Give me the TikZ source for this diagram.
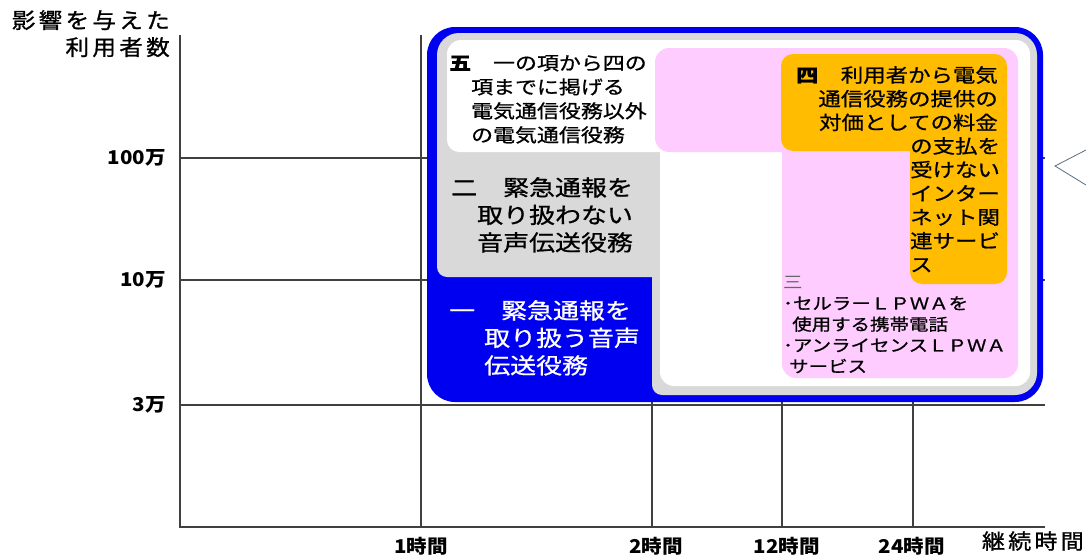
\documentclass[tikz,border=0pt]{standalone}
\usepackage{fontspec}
\setmainfont{Noto Sans CJK JP}[FakeStretch=1.18,FakeBold=0.8]
\newfontfamily\lblfont{Noto Sans CJK JP}[FakeStretch=1.08]
\newfontfamily\ttlfont{Noto Sans CJK JP}[FakeStretch=1.1,FakeBold=1,LetterSpace=15]
\usetikzlibrary{positioning}
\definecolor{kblue}{HTML}{0000F0}
\definecolor{kgray}{HTML}{D9D9D9}
\definecolor{kpink}{HTML}{FFCCFF}
\definecolor{korange}{HTML}{FFBC00}
\definecolor{kline}{HTML}{404040}
\definecolor{kmark}{HTML}{5A6E7E}

\begin{document}
\begin{tikzpicture}[x=1pt,y=-1pt,
    grid/.style={kline,line width=1.3pt},
    axlab/.style={inner sep=0pt,font=\lblfont\bfseries\fontsize{19}{19}\selectfont},
    boxtxt/.style={inner sep=0pt,align=left,anchor=north west}]
 \useasboundingbox (0,0) rectangle (1086,554);
 % axes and grid
 \draw[grid] (180,35) -- (180,527) -- (1045,527);
 \foreach \Y in {158,280,405} {\draw[grid] (180,\Y) -- (1045,\Y);}
 \foreach \X in {421,652,782,913} {\draw[grid] (\X,35) -- (\X,527);}
 % nested areas
 \fill[kblue,rounded corners=28] (427,27) rectangle (1043,402);
 \fill[kgray] (437,150) [rounded corners=22] -- (437,33) -- (1037,33) -- (1037,395)
   [rounded corners=10] -- (652,395) [sharp corners] -- (652,277) [rounded corners=10] -- (437,277) -- cycle;
 \fill[white] (447,100) [rounded corners=14] -- (447,40) -- (1030,40) -- (1030,386)
   -- (660,386) [sharp corners] -- (660,152) [rounded corners=12] -- (447,152) -- cycle;
 \fill[kpink] (655,100) [rounded corners=14] -- (655,48) -- (1018,48) -- (1018,378)
   -- (782,378) [sharp corners] -- (782,152) [rounded corners=14] -- (655,152) -- cycle;
 \fill[korange] (781,100) [rounded corners=12] -- (781,54) -- (1007,54) -- (1007,284)
   -- (910,284) [sharp corners] -- (910,151) [rounded corners=12] -- (781,151) -- cycle;
 % texts in the areas
 \node[boxtxt,font=\fontsize{18.6}{24}\selectfont] (OTHER) at (449,55)
  {{\bfseries 五}　一の項から四の\\　項までに掲げる\\　電気通信役務以外\\　の電気通信役務};
 \node[boxtxt,font=\fontsize{22}{27.5}\selectfont] (NOEMG) at (451,177)
  {二　緊急通報を\\　取り扱わない\\　音声伝送役務};
 \node[boxtxt,white,font=\fontsize{22}{27.5}\selectfont] (EMG) at (449,300)
  {一　緊急通報を\\\hspace*{35pt}取り扱う音声\\\hspace*{35pt}伝送役務};
 \node[boxtxt,align=right,anchor=north east,font=\fontsize{19}{23.7}\selectfont] (FREE) at (998,66)
  {{\bfseries 四}　利用者から電気\\通信役務の提供の\\対価としての料金};
 \node[boxtxt,font=\fontsize{19}{23.7}\selectfont] (FREEB) at (910,137)
  {の支払を\\受けない\\インター\\ネット関\\連サービ\\ス};
 \node[boxtxt,font=\fontsize{16.5}{21}\selectfont] (LPWA) at (783,276)
  {{\color{black!60}\addfontfeature{FakeBold=0}三}\\･セルラーＬＰＷＡを\\\hspace*{9pt}使用する携帯電話\\･アンライセンスＬＰＷＡ\\\hspace*{6pt}サービス};
 % axis labels
 \node[inner sep=0pt,align=right,anchor=north east,font=\ttlfont\fontsize{21.5}{27}\selectfont] (YTTL) at (170,10)
  {影響を与えた\\利用者数};
 \node[axlab,anchor=east] (Y100) at (166,158) {100万};
 \node[axlab,anchor=east] (Y10) at (166,280) {10万};
 \node[axlab,anchor=east] (Y3) at (166,405) {3万};
 \node[axlab] (X1) at (421,546) {1時間};
 \node[axlab] (X2) at (656,546) {2時間};
 \node[axlab] (X12) at (787,546) {12時間};
 \node[axlab] (X24) at (912,546) {24時間};
 \node[inner sep=0pt,font=\ttlfont\fontsize{21}{21}\selectfont,anchor=east] (XTTL) at (1084,541) {継続時間};
 % callout tip at the edge
 \coordinate (TIPA) at (1086,150);
 \coordinate (TIPB) at (1055,166);
 \coordinate (TIPC) at (1086,185);
 \draw[kmark,line width=0.8pt] (TIPA) -- (TIPB) -- (TIPC);
\end{tikzpicture}
\end{document}
